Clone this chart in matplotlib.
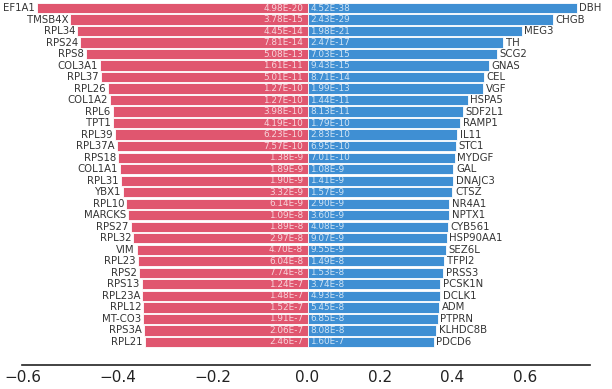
import numpy as np
import matplotlib
matplotlib.use('Agg')
import matplotlib.pyplot as plt
from matplotlib.ticker import FixedLocator

# left side (red)
genes_left = ['EF1A1', 'TMSB4X', 'RPL34', 'RPS24', 'RPS8', 'COL3A1', 'RPL37', 'RPL26',
              'COL1A2', 'RPL6', 'TPT1', 'RPL39', 'RPL37A', 'RPS18', 'COL1A1', 'RPL31',
              'YBX1', 'RPL10', 'MARCKS', 'RPS27', 'RPL32', 'VIM', 'RPL23', 'RPS2',
              'RPS13', 'RPL23A', 'RPL12', 'MT-CO3', 'RPS3A', 'RPL21']
vals_left = [0.571, 0.501, 0.486, 0.480, 0.467, 0.438, 0.436, 0.421, 0.417, 0.411,
             0.410, 0.406, 0.402, 0.400, 0.396, 0.394, 0.389, 0.383, 0.379, 0.373,
             0.368, 0.360, 0.358, 0.356, 0.350, 0.349, 0.347, 0.347, 0.345, 0.343]
p_left = ['4.98E-20', '3.78E-15', '4.45E-14', '7.81E-14', '5.08E-13', '1.61E-11',
          '5.01E-11', '1.27E-10', '1.27E-10', '3.98E-10', '4.19E-10', '6.23E-10',
          '7.57E-10', '1.38E-9', '1.89E-9', '1.90E-9', '3.32E-9', '6.14E-9',
          '1.09E-8', '1.89E-8', '2.97E-8', '4.70E-8', '6.04E-8', '7.74E-8',
          '1.24E-7', '1.48E-7', '1.52E-7', '1.91E-7', '2.06E-7', '2.46E-7']

# right side (blue)
genes_right = ['DBH', 'CHGB', 'MEG3', 'TH', 'SCG2', 'GNAS', 'CEL', 'VGF', 'HSPA5',
               'SDF2L1', 'RAMP1', 'IL11', 'STC1', 'MYDGF', 'GAL', 'DNAJC3', 'CTSZ',
               'NR4A1', 'NPTX1', 'CYB561', 'HSP90AA1', 'SEZ6L', 'TFPI2', 'PRSS3',
               'PCSK1N', 'DCLK1', 'ADM', 'PTPRN', 'KLHDC8B', 'PDCD6']
vals_right = [0.743, 0.677, 0.591, 0.539, 0.522, 0.500, 0.486, 0.484, 0.442, 0.428,
              0.420, 0.414, 0.409, 0.406, 0.403, 0.401, 0.400, 0.392, 0.390, 0.387,
              0.384, 0.381, 0.376, 0.373, 0.367, 0.365, 0.362, 0.359, 0.356, 0.348]
p_right = ['4.52E-38', '2.43E-29', '1.98E-21', '2.47E-17', '7.03E-15', '9.43E-15',
           '8.71E-14', '1.99E-13', '1.44E-11', '8.13E-11', '1.79E-10', '2.83E-10',
           '6.95E-10', '7.01E-10', '1.08E-9', '1.41E-9', '1.57E-9', '2.90E-9',
           '3.60E-9', '4.08E-9', '9.07E-9', '9.55E-9', '1.49E-8', '1.53E-8',
           '3.74E-8', '4.93E-8', '5.45E-8', '6.85E-8', '8.08E-8', '1.60E-7']

xticks = [-0.6, -0.4, -0.2, 0.0, 0.2, 0.4, 0.6]

RED = '#e0566f'
BLUE = '#3f8fd3'
K = 1.31  # left half is drawn wider than the right half


def fwd(x):
    x = np.asarray(x, dtype=float)
    return np.where(x < 0, x * K, x)


def inv(x):
    x = np.asarray(x, dtype=float)
    return np.where(x < 0, x / K, x)


fig = plt.figure(figsize=(6.12, 3.89), dpi=100)
ax = fig.add_axes([0.036, 0.062, 0.928, 0.938])
ax.set_xscale('function', functions=(fwd, inv))

n = len(genes_left)
y = np.arange(n)[::-1]
left = -np.array(vals_left)
right = np.array(vals_right)

ax.barh(y, left, height=0.9, color=RED, edgecolor='white', linewidth=0.6)
ax.barh(y, right, height=0.9, color=BLUE, edgecolor='white', linewidth=0.6)

for yi, v, g, p in zip(y, left, genes_left, p_left):
    ax.text(v - 0.004, yi, g, ha='right', va='center', fontsize=7.3, color='#333333')
    ax.text(-0.009, yi, p, ha='right', va='center', fontsize=6.4, color='white', alpha=0.75)
for yi, v, g, p in zip(y, right, genes_right, p_right):
    ax.text(v + 0.008, yi, g, ha='left', va='center', fontsize=7.3, color='#333333')
    ax.text(0.008, yi, p, ha='left', va='center', fontsize=6.4, color='white', alpha=0.75)

ax.set_xlim(-0.602, 0.78)
ax.set_ylim(-2.0, n - 0.3)
ax.xaxis.set_major_locator(FixedLocator(xticks))
ax.set_xticklabels(['−0.6', '−0.4', '−0.2', '0.0', '0.2', '0.4', '0.6'])
ax.tick_params(axis='x', length=0, pad=4, labelsize=11, colors='#222222')
ax.set_yticks([])
for s in ['top', 'right', 'left']:
    ax.spines[s].set_visible(False)
ax.spines['bottom'].set_color('#222222')
ax.spines['bottom'].set_linewidth(1.2)

fig.savefig('out.png', dpi=100)
